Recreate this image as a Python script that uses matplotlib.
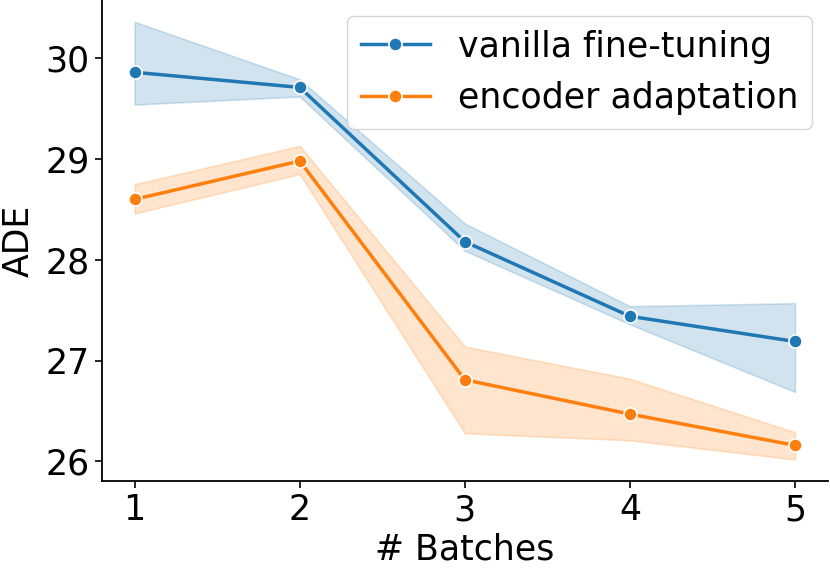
import numpy as np
import matplotlib
matplotlib.use("Agg")
import matplotlib.pyplot as plt

# data
batches = [1, 2, 3, 4, 5]

vanilla_mean = [29.86, 29.71, 28.18, 27.44, 27.19]
vanilla_low = [29.54, 29.62, 28.09, 27.36, 26.69]
vanilla_high = [30.36, 29.79, 28.36, 27.54, 27.57]

encoder_mean = [28.60, 28.98, 26.81, 26.47, 26.16]
encoder_low = [28.46, 28.85, 26.28, 26.21, 26.02]
encoder_high = [28.75, 29.13, 27.14, 26.82, 26.29]

series = [
    ("vanilla fine-tuning", "#1f77b4", vanilla_mean, vanilla_low, vanilla_high),
    ("encoder adaptation", "#ff7f0e", encoder_mean, encoder_low, encoder_high),
]

fig, ax = plt.subplots(figsize=(8.3, 5.73), dpi=100)
fig.subplots_adjust(left=0.1225, right=0.9976, bottom=0.16, top=1.0)

for label, color, mean, low, high in series:
    ax.fill_between(batches, low, high, color=color, alpha=0.2, linewidth=1.2)
    ax.plot(batches, mean, color=color, lw=2.5, marker="o", markersize=9.5,
            markeredgecolor="white", markeredgewidth=1.2, label=label)

ax.set_xticks(batches)
ax.set_xlabel("# Batches", fontsize=25, labelpad=4)
ax.set_ylabel("ADE", fontsize=25, labelpad=7)
ax.tick_params(labelsize=25, width=1.2, length=5)
ax.spines["top"].set_visible(False)
ax.spines["right"].set_visible(False)
for s in ("left", "bottom"):
    ax.spines[s].set_linewidth(1.3)

ax.legend(loc="upper right", fontsize=25, borderaxespad=0.45)

fig.savefig("out.png", dpi=100)
